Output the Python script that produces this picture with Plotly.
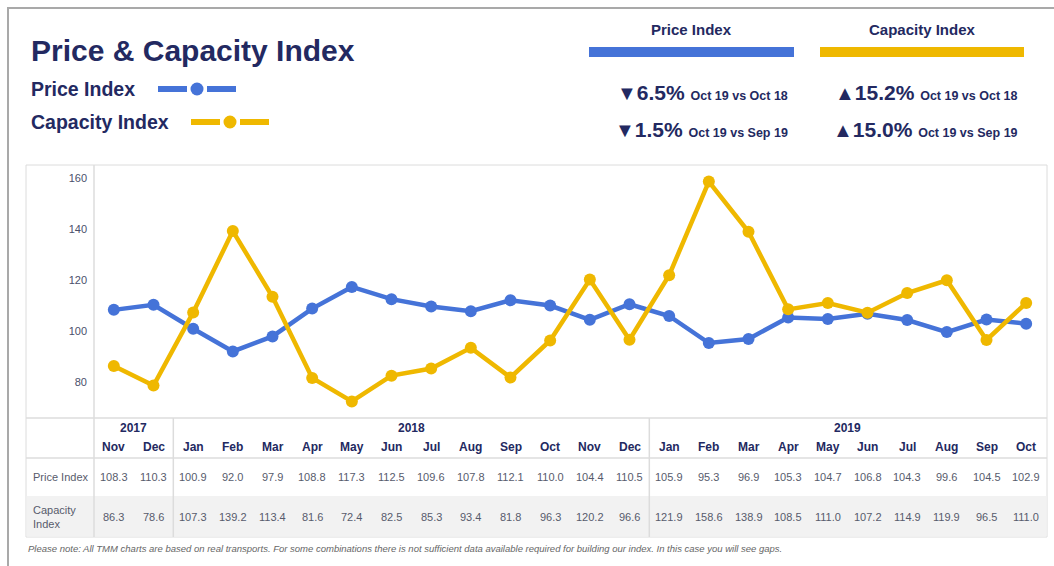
import plotly.graph_objects as go

W, H = 1054, 566

# ---------------- data ----------------
months = ["Nov", "Dec", "Jan", "Feb", "Mar", "Apr", "May", "Jun", "Jul", "Aug", "Sep", "Oct",
          "Nov", "Dec", "Jan", "Feb", "Mar", "Apr", "May", "Jun", "Jul", "Aug", "Sep", "Oct"]
years = ["2017", "2018", "2019"]
year_first = [0, 2, 14]
year_last = [1, 13, 23]
price = [108.3, 110.3, 100.9, 92.0, 97.9, 108.8, 117.3, 112.5, 109.6, 107.8, 112.1, 110.0,
         104.4, 110.5, 105.9, 95.3, 96.9, 105.3, 104.7, 106.8, 104.3, 99.6, 104.5, 102.9]
capacity = [86.3, 78.6, 107.3, 139.2, 113.4, 81.6, 72.4, 82.5, 85.3, 93.4, 81.8, 96.3,
            120.2, 96.6, 121.9, 158.6, 138.9, 108.5, 111.0, 107.2, 114.9, 119.9, 96.5, 111.0]
y_ticks = [80, 100, 120, 140, 160]
series_names = ["Price Index", "Capacity Index"]
price_stats = [("▼", "6.5%", "Oct 19 vs Oct 18"), ("▼", "1.5%", "Oct 19 vs Sep 19")]
capacity_stats = [("▲", "15.2%", "Oct 19 vs Oct 18"), ("▲", "15.0%", "Oct 19 vs Sep 19")]
footnote = ("Please note: All TMM charts are based on real transports. For some combinations there is "
            "not sufficient data available required for building our index. In this case you will see gaps.")

# ---------------- style ----------------
BLUE = "#4573d8"
YELLOW = "#efb800"
NAVY = "#232961"
GRID = "#dcdcdc"
VAL = "#575b6c"
FONT = "Liberation Sans, Arial, sans-serif"


def px(x):
    return x / W


def py(y):
    return 1 - y / H


x_idx = list(range(len(months)))

fig = go.Figure()
fig.add_trace(go.Scatter(x=x_idx, y=price, mode="lines+markers", name=series_names[0],
                         line=dict(color=BLUE, width=4.5), marker=dict(size=12, color=BLUE),
                         cliponaxis=False))
fig.add_trace(go.Scatter(x=x_idx, y=capacity, mode="lines+markers", name=series_names[1],
                         line=dict(color=YELLOW, width=4.5), marker=dict(size=12, color=YELLOW),
                         cliponaxis=False))

shapes = []
ann = []

# outer frame (top and left)
shapes.append(dict(type="line", xref="paper", yref="paper", x0=px(7), x1=1, y0=py(8), y1=py(8),
                   line=dict(color="#a9a9a9", width=2)))
shapes.append(dict(type="line", xref="paper", yref="paper", x0=px(8), x1=px(8), y0=py(8), y1=0,
                   line=dict(color="#a9a9a9", width=2)))

# chart box
shapes.append(dict(type="rect", xref="paper", yref="paper", x0=px(26), x1=px(1047), y0=py(537), y1=py(165),
                   line=dict(color=GRID, width=1), layer="below"))
# capacity row background
shapes.append(dict(type="rect", xref="paper", yref="paper", x0=px(26.5), x1=px(1046.5), y0=py(536.5), y1=py(496),
                   fillcolor="#f2f2f2", line=dict(width=0), layer="below"))
# horizontal table lines
for yy in (418, 458):
    shapes.append(dict(type="line", xref="paper", yref="paper", x0=px(26), x1=px(1047), y0=py(yy), y1=py(yy),
                       line=dict(color=GRID, width=1.5)))
# plot area left line
shapes.append(dict(type="line", xref="paper", yref="paper", x0=px(94), x1=px(94), y0=py(165), y1=py(537),
                   line=dict(color=GRID, width=1.5)))
# year separators
for i in year_first[1:]:
    shapes.append(dict(type="line", xref="x", yref="paper", x0=i - 0.5, x1=i - 0.5, y0=py(418), y1=py(537),
                       line=dict(color=GRID, width=1.5)))

# title & legend
ann.append(dict(text="<b>Price & Capacity Index</b>", x=px(29), y=py(51), xanchor="left", yanchor="middle",
                font=dict(size=30, color=NAVY)))
leg = [(series_names[0], BLUE, 89, 158, 197, 236), (series_names[1], YELLOW, 122, 191, 230, 269)]
for name, col, yy, xa, xc, xb in leg:
    ann.append(dict(text="<b>%s</b>" % name, x=px(29), y=py(yy), xanchor="left", yanchor="middle",
                    font=dict(size=19.5, color=NAVY)))
    shapes.append(dict(type="line", xref="paper", yref="paper", x0=px(xa), x1=px(xc - 10), y0=py(yy), y1=py(yy),
                       line=dict(color=col, width=6)))
    shapes.append(dict(type="line", xref="paper", yref="paper", x0=px(xc + 10), x1=px(xb), y0=py(yy), y1=py(yy),
                       line=dict(color=col, width=6)))
    shapes.append(dict(type="circle", xref="paper", yref="paper", x0=px(xc - 6.5), x1=px(xc + 6.5),
                       y0=py(yy + 6.5), y1=py(yy - 6.5), fillcolor=col, line=dict(width=0)))

# header stat blocks
blocks = [(series_names[0], BLUE, 589, 794, 790, price_stats),
          (series_names[1], YELLOW, 820, 1024, 1020, capacity_stats)]
for name, col, x0, x1, xr, stats in blocks:
    ann.append(dict(text="<b>%s</b>" % name, x=px((x0 + x1) / 2), y=py(29), xanchor="center", yanchor="middle",
                    font=dict(size=15, color=NAVY)))
    shapes.append(dict(type="rect", xref="paper", yref="paper", x0=px(x0), x1=px(x1), y0=py(57), y1=py(47),
                       fillcolor=col, line=dict(width=0)))
    for (tri, pct, lab), yy in zip(stats, (92, 129)):
        txt = ("<span style='font-size:20px'>%s</span><b>%s</b> <span style='font-size:12.5px'><b>%s</b></span>"
               % (tri, pct, lab))
        ann.append(dict(text=txt, x=px(xr), y=py(yy), xanchor="right", yanchor="middle",
                        font=dict(size=21, color=NAVY)))

# table: years
for yr, a, b in zip(years, year_first, year_last):
    ann.append(dict(text="<b>%s</b>" % yr, x=(a + b) / 2, xref="x", y=py(428), xanchor="center",
                    yanchor="middle", font=dict(size=12, color=NAVY)))
# months
for i, m in enumerate(months):
    ann.append(dict(text="<b>%s</b>" % m, x=i, xref="x", y=py(447), xanchor="center", yanchor="middle",
                    font=dict(size=12, color=NAVY)))
# values
for i, (p, c) in enumerate(zip(price, capacity)):
    ann.append(dict(text="%.1f" % p, x=i, xref="x", y=py(477), xanchor="center", yanchor="middle",
                    font=dict(size=11, color=VAL)))
    ann.append(dict(text="%.1f" % c, x=i, xref="x", y=py(516.5), xanchor="center", yanchor="middle",
                    font=dict(size=11, color=VAL)))
ann.append(dict(text=series_names[0], x=px(31), y=py(477), xanchor="left", yanchor="middle",
                font=dict(size=11, color=VAL)))
ann.append(dict(text="Capacity<br>Index", x=px(31), y=py(516.5), xanchor="left", yanchor="middle", align="left",
                font=dict(size=11, color=VAL)))

# footnote
ann.append(dict(text="<i>%s</i>" % footnote, x=px(26), y=py(548), xanchor="left", yanchor="middle",
                font=dict(size=9.5, color="#666666")))

for a in ann:
    a.setdefault("xref", "paper")
    a["yref"] = "paper"
    a["showarrow"] = False

fig.update_layout(
    width=W, height=H, margin=dict(l=0, r=0, t=0, b=0),
    paper_bgcolor="white", plot_bgcolor="rgba(0,0,0,0)",
    font=dict(family=FONT, color=NAVY),
    showlegend=False,
    shapes=shapes, annotations=ann,
    xaxis=dict(domain=[px(94), px(1046)], range=[-0.5, 23.5], showticklabels=False, showgrid=False,
               zeroline=False, showline=False, fixedrange=True),
    yaxis=dict(domain=[py(418), py(165)], range=[65.9, 165.1], tickvals=y_ticks, showgrid=False,
               zeroline=False, showline=False, ticks="", ticklabelstandoff=6,
               tickfont=dict(size=11, color="#4a4f6b"), fixedrange=True),
)

fig.write_html("out.html")
